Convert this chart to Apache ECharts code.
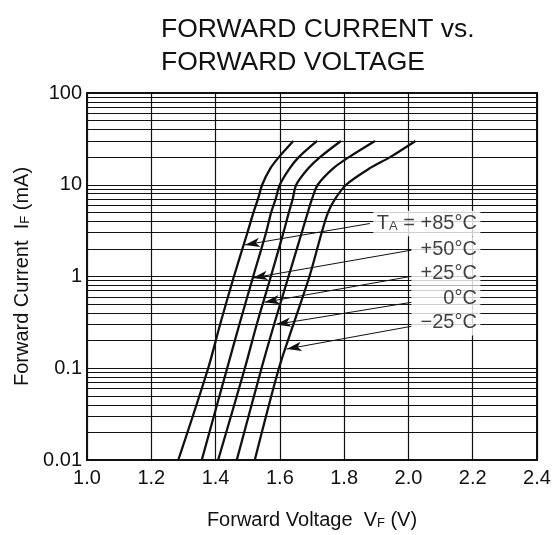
<!DOCTYPE html>
<html>
<head>
<meta charset="utf-8">
<script src="https://cdn.jsdelivr.net/npm/echarts@6/dist/echarts.min.js"></script>
<style>
  html, body { margin: 0; padding: 0; background: #fff; }
  #chart { width: 554px; height: 535px; }
</style>
</head>
<body>
<div id="chart"></div>
<script>
// forward current steps (mA) and the forward voltage (V) read for each temperature
const currents = [0.01, 0.1, 0.3, 1, 3, 5, 7, 10, 15, 20, 30];
const vf85  = [1.284, 1.377, 1.414, 1.457, 1.499, 1.518, 1.532, 1.545, 1.570, 1.597, 1.642];
const vf50  = [1.357, 1.436, 1.474, 1.517, 1.557, 1.573, 1.587, 1.600, 1.630, 1.659, 1.716];
const vf25  = [1.408, 1.491, 1.528, 1.572, 1.611, 1.628, 1.640, 1.651, 1.688, 1.725, 1.790];
const vf0   = [1.466, 1.543, 1.582, 1.627, 1.668, 1.687, 1.700, 1.718, 1.765, 1.815, 1.896];
const vfm25 = [1.522, 1.597, 1.642, 1.692, 1.730, 1.750, 1.772, 1.806, 1.878, 1.943, 2.022];

// minor horizontal rules of the log grid (2..9 in every decade)
const minorLines = [
  0.02, 0.03, 0.04, 0.05, 0.06, 0.07, 0.08, 0.09,
  0.2, 0.3, 0.4, 0.5, 0.6, 0.7, 0.8, 0.9,
  2, 3, 4, 5, 6, 7, 8, 9,
  20, 30, 40, 50, 60, 70, 80, 90
];

// temperature callouts: text, where the arrow hits the curve, where it leaves the box
const tempLabels = ['T{s|A} = +85°C', '+50°C', '+25°C', '0°C', '−25°C'];
const arrowTips  = [[1.491, 2.21], [1.515, 0.964], [1.552, 0.524], [1.587, 0.300], [1.621, 0.162]];
const arrowTails = [[1.880, 3.78], [2.010, 1.94], [2.010, 1.005], [2.010, 0.524], [2.010, 0.287]];
const labelAt    = [[2.2255, 3.78], [2.2255, 1.99], [2.2255, 1.09], [2.2255, 0.578], [2.2255, 0.312]];

const curves = [vf85, vf50, vf25, vf0, vfm25];
const FONT = '"Liberation Sans", Arial, Helvetica, sans-serif';
const INK = '#111';
const subStyle = { fontFamily: FONT, fontSize: 13, color: INK, verticalAlign: 'bottom', lineHeight: 20 };
const calloutSub = { fontFamily: FONT, fontSize: 13, color: INK, verticalAlign: 'middle', lineHeight: 13, padding: [5, 0, 0, 0] };

const chart = echarts.init(document.getElementById('chart'), null, { renderer: 'canvas' });

const curveSeries = curves.map((vf, i) => ({
  type: 'line',
  name: tempLabels[i],
  data: vf.map((v, k) => [v, currents[k]]),
  smooth: 0.3,
  symbol: 'none',
  z: 5,
  lineStyle: { color: INK, width: 2.3 },
  markLine: {
    silent: true,
    z: 5,
    symbol: ['arrow', 'none'],
    symbolSize: [7, 15],
    label: { show: false },
    lineStyle: { color: INK, width: 1, type: 'solid' },
    data: [[{ coord: arrowTips[i] }, { coord: arrowTails[i] }]]
  }
}));

const option = {
  animation: false,
  backgroundColor: '#fff',
  title: {
    text: 'FORWARD CURRENT vs.\nFORWARD VOLTAGE',
    left: 161,
    top: 13,
    padding: 0,
    textStyle: { fontFamily: FONT, fontSize: 26.5, fontWeight: 'normal', color: INK, lineHeight: 33 }
  },
  grid: { left: 87, right: 17, top: 93, bottom: 69, show: true, borderColor: INK, borderWidth: 2 },
  xAxis: {
    type: 'value',
    min: 1.0,
    max: 2.4,
    interval: 0.2,
    name: 'Forward Voltage  V{s|F} (V)',
    nameLocation: 'middle',
    nameGap: 50,
    nameTextStyle: { fontFamily: FONT, fontSize: 20, color: INK, rich: { s: subStyle } },
    axisLine: { show: true, lineStyle: { color: INK, width: 2 } },
    axisTick: { show: false },
    axisLabel: { fontFamily: FONT, fontSize: 20, color: INK, margin: 8, formatter: v => v.toFixed(1) },
    splitLine: { show: true, lineStyle: { color: INK, width: 1.2 } }
  },
  yAxis: {
    type: 'log',
    logBase: 10,
    min: 0.01,
    max: 100,
    interval: 1,
    name: 'Forward Current  I{s|F} (mA)',
    nameLocation: 'middle',
    nameGap: 52,
    nameTextStyle: { fontFamily: FONT, fontSize: 20, color: INK, rich: { s: subStyle } },
    axisLine: { show: true, lineStyle: { color: INK, width: 2 } },
    axisTick: { show: false },
    axisLabel: { fontFamily: FONT, fontSize: 20, color: INK, margin: 5, formatter: v => String(+(+v).toPrecision(3)) },
    splitLine: { show: true, lineStyle: { color: INK, width: 1.2 } }
  },
  series: [
    {
      type: 'line',
      name: 'minor grid',
      data: [],
      z: 1,
      markLine: {
        silent: true,
        z: 1,
        symbol: 'none',
        label: { show: false },
        lineStyle: { color: INK, width: 1, type: 'solid' },
        data: minorLines.map(v => ({ yAxis: v }))
      }
    },
    ...curveSeries,
    {
      type: 'scatter',
      name: 'callouts',
      z: 20,
      symbolSize: 1,
      itemStyle: { color: 'rgba(0,0,0,0)' },
      silent: true,
      data: labelAt.map((p, i) => ({
        value: p,
        label: i === 0 ? {} : { width: 62 }
      })),
      label: {
        show: true,
        position: 'left',
        distance: 0,
        formatter: p => tempLabels[p.dataIndex],
        fontFamily: FONT,
        fontSize: 20,
        color: INK,
        lineHeight: 25.3,
        backgroundColor: '#ffffff',
        padding: [0, 3.5],
        rich: { s: calloutSub }
      }
    }
  ]
};

chart.setOption(option);
window.addEventListener('resize', () => chart.resize());
</script>
</body>
</html>
